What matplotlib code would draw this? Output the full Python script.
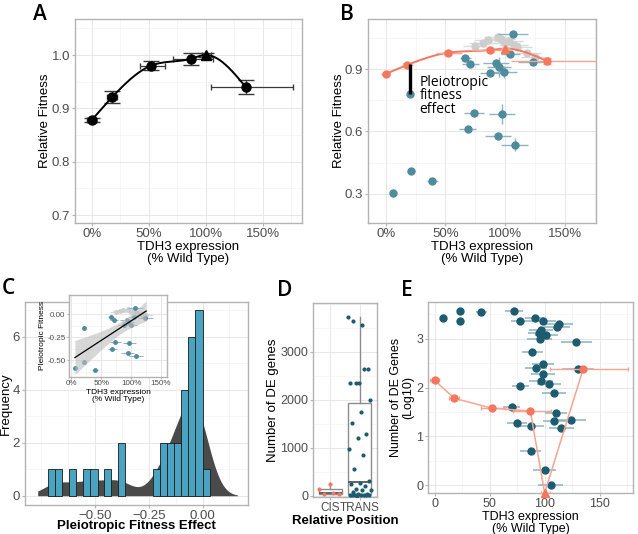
import numpy as np
import matplotlib
matplotlib.use('Agg')
import matplotlib.pyplot as plt
from matplotlib.ticker import AutoMinorLocator, FuncFormatter

plt.rcParams['font.family'] = ['Liberation Sans', 'DejaVu Sans']

# ---- data -------------------------------------------------------------
# cis mutants + wild type (panel A / orange in B, E)
cis_expr = [0, 18, 52, 87, 100, 135]
cis_fit = [0.878, 0.921, 0.980, 0.993, 1.000, 0.940]
cis_fit_err = [0.003, 0.011, 0.009, 0.011, 0.004, 0.014]
cis_expr_lo = [4, 4.6, 10, 16, 3, 30]
cis_expr_hi = [4, 4.6, 12, 19, 5, 41]
cis_is_wt = [False, False, False, False, True, False]

# trans mutants (teal in B)
tr_x = [106.7, 66.5, 70.9, 92.5, 95.0, 87.7, 99.2, 104.2, 123.5,
        20.4, 73.8, 97.2, 68.7, 94.1, 107.8, 21.2, 39.1, 5.9]
tr_y = [1.069, 0.956, 0.927, 0.930, 0.911, 0.881, 0.887, 0.974, 0.934,
        0.782, 0.687, 0.684, 0.611, 0.577, 0.537, 0.411, 0.360, 0.303]
tr_xerr = [12.6, 4.7, 7.0, 11.0, 10.0, 9.0, 11.0, 8.0, 12.6,
           2.0, 8.4, 10.6, 7.0, 10.6, 11.7, 3.0, 4.6, 2.0]
tr_yerr = [0.01, 0.01, 0.01, 0.02, 0.05, 0.01, 0.03, 0.01, 0.01,
           0.015, 0.015, 0.05, 0.01, 0.01, 0.03, 0.01, 0.01, 0.02]

# other mutants (grey in B)
gr_x = [75.0, 81.8, 86.0, 94.4, 96.4, 100.0, 102.8, 107.0, 110.3, 118.2, 125.1]
gr_y = [1.013, 1.029, 1.042, 1.055, 1.045, 1.029, 1.038, 1.018, 1.009, 0.977, 0.961]
gr_xerr = [10, 12, 12, 12, 12, 12, 12, 12, 12, 12, 12]

# histogram of pleiotropic fitness effects (panel C)
hist_centers = [-0.703, -0.670, -0.603, -0.537, -0.504, -0.441, -0.376,
                -0.215, -0.181, -0.148, -0.117, -0.084, -0.051, -0.017, 0.017]
hist_counts = [1, 1, 1, 1, 1, 1, 2, 1, 2, 2, 2, 4, 6, 7, 1]
HIST_BW = 0.0338
KDE_BW = 0.06
DENS_RANGE = (-0.766, 0.162)

# number of DE genes, log10 (panel E, teal)
de_x = [23.3, 42.4, 72.1, 7.6, 22.7, 77.9, 91.2, 98.5, 113.0, 111.5, 96.4, 94.5,
        101.5, 95.5, 128.8, 88.8, 98.5, 91.8, 130.3, 98.5, 97.0, 103.9, 77.9,
        108.5, 70.0, 110.6, 123.6, 108.8, 74.8, 87.3, 115.2, 87.3, 100.0, 105.5]
de_logy = [3.57, 3.55, 3.56, 3.42, 3.37, 3.37, 3.42, 3.37, 3.30, 3.24, 3.18, 3.11,
           3.08, 2.99, 2.93, 2.74, 2.48, 2.41, 2.38, 2.28, 2.14, 2.07, 2.03,
           1.90, 1.61, 1.49, 1.33, 1.32, 1.28, 1.21, 1.18, 0.70, 0.31, 0.0]
de_xerr = [2, 4.8, 7.9, 2, 2, 8.8, 8.6, 11.8, 12.9, 12, 11, 9.8,
           10.6, 11.6, 14, 9.4, 10.3, 10, 14.4, 11.3, 11, 11, 8,
           11, 7.6, 10, 14, 10.6, 9, 12, 11.3, 9.5, 10.3, 11.6]
# cis mutants, log10 DE genes (wild type has none -> -inf)
cis_de_logy = [2.15, 1.78, 1.58, 1.52, -np.inf, 2.38]

# ---- colours ----------------------------------------------------------
ORANGE = '#F4775E'
ORANGE_L = '#F7A592'
TEAL = '#4E8B9C'
TEAL_L = '#8DB4C0'
TEAL_D = '#1D5C70'
GREY_PT = '#CDCDCD'
GREY_ERR = '#DCDCDC'
BAR_BLUE = '#4AA3C0'
DENS_GREY = '#4A4A4A'


def natural_spline(x, y, xs):
    x = np.asarray(x, float)
    y = np.asarray(y, float)
    n = len(x)
    h = np.diff(x)
    A = np.zeros((n, n))
    r = np.zeros(n)
    A[0, 0] = A[-1, -1] = 1
    for i in range(1, n - 1):
        A[i, i - 1] = h[i - 1]
        A[i, i] = 2 * (h[i - 1] + h[i])
        A[i, i + 1] = h[i]
        r[i] = 3 * ((y[i + 1] - y[i]) / h[i] - (y[i] - y[i - 1]) / h[i - 1])
    c = np.linalg.solve(A, r)
    b = (y[1:] - y[:-1]) / h - h * (2 * c[:-1] + c[1:]) / 3
    d = (c[1:] - c[:-1]) / (3 * h)
    xs = np.asarray(xs, float)
    idx = np.clip(np.searchsorted(x, xs) - 1, 0, n - 2)
    dx = xs - x[idx]
    return y[idx] + b[idx] * dx + c[idx] * dx ** 2 + d[idx] * dx ** 3


def style(ax, fs=9, minor_x=True, minor_y=True):
    for s in ax.spines.values():
        s.set_color('#B3B3B3')
        s.set_linewidth(1.0)
    ax.tick_params(colors='#B3B3B3', labelcolor='#4D4D4D', labelsize=fs,
                   length=2.5, width=0.8, pad=1)
    ax.tick_params(which='minor', length=0)
    if minor_x:
        ax.xaxis.set_minor_locator(AutoMinorLocator(2))
    if minor_y:
        ax.yaxis.set_minor_locator(AutoMinorLocator(2))
    ax.grid(True, which='major', color='#E3E3E3', lw=0.6)
    ax.grid(True, which='minor', color='#F0F0F0', lw=0.4)
    ax.set_axisbelow(True)


pct = FuncFormatter(lambda v, p: f'{v:.0f}%')

fig = plt.figure(figsize=(6.38, 5.34), dpi=100)
W, H = 638, 534


def add_ax(l, t, r, b):
    return fig.add_axes([l / W, 1 - b / H, (r - l) / W, (b - t) / H])


xs_curve = np.linspace(min(cis_expr), max(cis_expr), 300)
ys_curve = natural_spline(cis_expr, cis_fit, xs_curve)
cis_x = np.array(cis_expr, float)
cis_xerr = [cis_expr_lo, cis_expr_hi]

# ---- Panel A ----------------------------------------------------------
axA = add_ax(75, 19, 302, 223)
style(axA, fs=9.5)
axA.plot(xs_curve, ys_curve, color='black', lw=1.4, zorder=3)
axA.errorbar(cis_x, cis_fit, xerr=cis_xerr, fmt='none', ecolor='#3A3A3A',
             elinewidth=0.9, capsize=2, zorder=2)
axA.errorbar(cis_x, cis_fit, yerr=cis_fit_err, fmt='none', ecolor='#3A3A3A',
             elinewidth=0.9, capsize=6, zorder=2)
for xv, yv, wt in zip(cis_x, cis_fit, cis_is_wt):
    axA.plot(xv, yv, marker='^' if wt else 'o', ms=7 if wt else 6.5,
             color='black', zorder=4)
axA.set_xlim(-14.6, 184.3)
axA.set_ylim(0.685, 1.0675)
axA.set_xticks([0, 50, 100, 150])
axA.xaxis.set_major_formatter(pct)
axA.set_yticks([0.7, 0.8, 0.9, 1.0])
axA.set_xlabel('TDH3 expression\n(% Wild Type)', fontsize=9.5, labelpad=1,
               linespacing=0.95)
axA.set_ylabel('Relative Fitness', fontsize=9.5, labelpad=0.5)

# ---- Panel B ----------------------------------------------------------
axB = add_ax(368, 19, 596, 223)
style(axB, fs=9.5)
axB.errorbar(gr_x, gr_y, xerr=gr_xerr, fmt='o', ms=5, color=GREY_PT,
             ecolor=GREY_ERR, elinewidth=1.0, capsize=0, zorder=2)
axB.errorbar(tr_x, tr_y, xerr=tr_xerr, yerr=tr_yerr, fmt='o', ms=5,
             color=TEAL, ecolor=TEAL_L, elinewidth=1.0, capsize=0, zorder=3)
axB.plot(xs_curve, ys_curve, color=ORANGE, lw=1.4, zorder=4)
axB.errorbar(cis_x, cis_fit, xerr=cis_xerr, fmt='none', ecolor=ORANGE_L,
             elinewidth=1.0, capsize=0, zorder=4)
axB.errorbar(cis_x, cis_fit, yerr=cis_fit_err, fmt='none', ecolor=ORANGE_L,
             elinewidth=1.0, capsize=3, zorder=4)
for xv, yv, wt in zip(cis_x, cis_fit, cis_is_wt):
    axB.plot(xv, yv, marker='^' if wt else 'o', ms=6 if wt else 5,
             color=ORANGE, zorder=5)
# pleiotropic effect bar for the strongest low-expression trans mutant
ex_x, ex_y = tr_x[9], tr_y[9]
axB.plot([ex_x, ex_x], [natural_spline(cis_expr, cis_fit, [ex_x])[0], ex_y],
         color='black', lw=2.4, zorder=6, solid_capstyle='butt')
axB.text(28.5, 0.875, 'Pleiotropic\nfitness\neffect', family='Open Sans',
         fontsize=10, va='top', ha='left', linespacing=0.88, zorder=7)
axB.set_xlim(-14.8, 176)
axB.set_ylim(0.158, 1.143)
axB.set_xticks([0, 50, 100, 150])
axB.xaxis.set_major_formatter(pct)
axB.set_yticks([0.3, 0.6, 0.9])
axB.set_xlabel('TDH3 expression\n(% Wild Type)', fontsize=9.5, labelpad=1,
               linespacing=0.95)
axB.set_ylabel('Relative Fitness', fontsize=9.5, labelpad=0)

# ---- Panel C ----------------------------------------------------------
axC = add_ax(25, 302, 248, 505)
style(axC, fs=9.5)
vals = np.repeat(hist_centers, hist_counts)
grid = np.linspace(DENS_RANGE[0], DENS_RANGE[1], 400)
dens = np.exp(-0.5 * ((grid[:, None] - vals[None, :]) / KDE_BW) ** 2).sum(axis=1)
dens /= len(vals) * KDE_BW * np.sqrt(2 * np.pi)
axC.fill_between(grid, 0, dens, color=DENS_GREY, lw=0, zorder=1)
axC.bar(hist_centers, hist_counts, width=HIST_BW, color=BAR_BLUE,
        edgecolor='#1A1A1A', lw=0.6, zorder=2)
axC.set_xlim(-0.825, 0.211)
axC.set_ylim(-0.35, 7.31)
axC.set_xticks([-0.5, -0.25, 0.0])
axC.xaxis.set_major_formatter(FuncFormatter(lambda v, p: f'{v:.2f}'.replace('-', '\u2212')))
axC.set_yticks([0, 2, 4, 6])
axC.set_xlabel('Pleiotropic Fitness Effect', fontsize=9.5, fontweight='bold',
               labelpad=-1)
axC.set_ylabel('Frequency', fontsize=9.5, labelpad=1)

# inset: pleiotropic fitness vs expression
axI = add_ax(69, 295, 167, 377)
style(axI, fs=5.8)
axI.set_facecolor('white')
axI.tick_params(length=1.5, pad=1)
pl_tr = np.array(tr_y) - natural_spline(cis_expr, cis_fit, tr_x)
pl_gr = np.array(gr_y) - natural_spline(cis_expr, cis_fit, gr_x)
all_x = np.concatenate([tr_x, gr_x])
all_p = np.concatenate([pl_tr, pl_gr])
slope, icpt = np.polyfit(all_x, all_p, 1)
xf = np.linspace(all_x.min(), all_x.max(), 100)
yf = slope * xf + icpt
resid = all_p - (slope * all_x + icpt)
s_err = np.sqrt((resid ** 2).sum() / (len(all_x) - 2))
sxx = ((all_x - all_x.mean()) ** 2).sum()
band = 2.05 * s_err * np.sqrt(1 / len(all_x) + (xf - all_x.mean()) ** 2 / sxx)
axI.errorbar(gr_x, pl_gr, xerr=gr_xerr, fmt='o', ms=2.5, color=GREY_PT,
             ecolor=GREY_ERR, elinewidth=0.7, capsize=0, zorder=2)
axI.errorbar(tr_x, pl_tr, xerr=tr_xerr, fmt='o', ms=2.5, color=TEAL,
             ecolor=TEAL_L, elinewidth=0.7, capsize=0, zorder=3)
axI.fill_between(xf, yf - band, yf + band, color='#BDBDBD', alpha=0.6, lw=0,
                 zorder=4)
axI.plot(xf, yf, color='black', lw=0.9, zorder=5)
axI.set_xlim(-4, 160)
axI.set_ylim(-0.683, 0.211)
axI.set_xticks([0, 50, 100, 150])
axI.xaxis.set_major_formatter(pct)
axI.set_yticks([-0.5, -0.25, 0.0])
axI.yaxis.set_major_formatter(FuncFormatter(lambda v, p: f'{v:.2f}'))
axI.set_xlabel('TDH3 expression\n(% Wild Type)', fontsize=6, labelpad=1,
               linespacing=1.0)
axI.set_ylabel('Pleiotropic Fitness', fontsize=6, labelpad=1)

# ---- Panel D ----------------------------------------------------------
axD = add_ax(313, 303, 377, 497)
style(axD, fs=9, minor_x=False)
cis_de = [10 ** v for v in cis_de_logy if np.isfinite(v)]
trans_de = [10 ** v for v in de_logy]
axD.boxplot([cis_de, trans_de], positions=[1, 2], widths=0.8,
            showfliers=False, patch_artist=True,
            boxprops=dict(facecolor='white', edgecolor='#8C8C8C', lw=1.0),
            whiskerprops=dict(color='#8C8C8C', lw=1.0),
            capprops=dict(lw=0),
            medianprops=dict(color='#595959', lw=1.3), zorder=2)
jit_c = ((np.arange(len(cis_de)) * 0.618034) % 1.0 - 0.5) * 0.8
jit_t = ((np.arange(len(trans_de)) * 0.618034) % 1.0 - 0.5) * 0.8
axD.scatter(1 + jit_c, cis_de, s=9, color=ORANGE, zorder=3, lw=0)
axD.scatter(2 + jit_t, trans_de, s=9, color=TEAL_D, zorder=3, lw=0)
axD.set_xlim(0.4, 2.6)
axD.set_ylim(-30, 4015)
axD.set_xticks([1, 2])
axD.set_xticklabels(['CIS', 'TRANS'], fontsize=8.5)
axD.set_yticks([0, 1000, 2000, 3000])
axD.set_xlabel('Relative Position', fontsize=9.5, fontweight='bold', labelpad=1)
axD.set_ylabel('Number of DE genes', fontsize=9.5, labelpad=0.5)

# ---- Panel E ----------------------------------------------------------
axE = add_ax(428, 302, 633, 493)
style(axE, fs=9)
ylo_E, yhi_E = -0.158, 3.754
cis_de_plot = np.clip(cis_de_logy, ylo_E, None)
axE.errorbar(de_x, de_logy, xerr=de_xerr, fmt='o', ms=5, color=TEAL_D,
             ecolor=TEAL_L, elinewidth=1.1, capsize=0, zorder=2)
axE.plot(cis_x, cis_de_plot, color=ORANGE_L, lw=1.1, zorder=3, clip_on=False)
axE.errorbar(cis_x, cis_de_plot, xerr=cis_xerr, fmt='none', ecolor=ORANGE_L,
             elinewidth=1.0, capsize=1.5, zorder=3)
for xv, yv, wt in zip(cis_x, cis_de_plot, cis_is_wt):
    axE.plot(xv, yv, marker='^' if wt else 'o', ms=5.5 if wt else 5,
             color=ORANGE, zorder=4, clip_on=False)
axE.set_xlim(-6, 180.3)
axE.set_ylim(ylo_E, yhi_E)
axE.set_xticks([0, 50, 100, 150])
axE.set_yticks([0, 1, 2, 3])
axE.set_xlabel('TDH3 expression\n(% Wild Type)', fontsize=9, labelpad=1,
               linespacing=1.0)
axE.set_ylabel('Number of DE Genes\n(Log10)', fontsize=9, labelpad=1,
               linespacing=1.05)

# ---- panel letters ----------------------------------------------------
for lab, x, y in [('A', 40, 14), ('B', 347, 14), ('C', 8, 288),
                  ('D', 285, 290), ('E', 407, 290)]:
    fig.text(x / W, 1 - y / H, lab, family='Open Sans', fontsize=15,
             fontweight='semibold', ha='center', va='center')

fig.savefig('out.png', dpi=100)
